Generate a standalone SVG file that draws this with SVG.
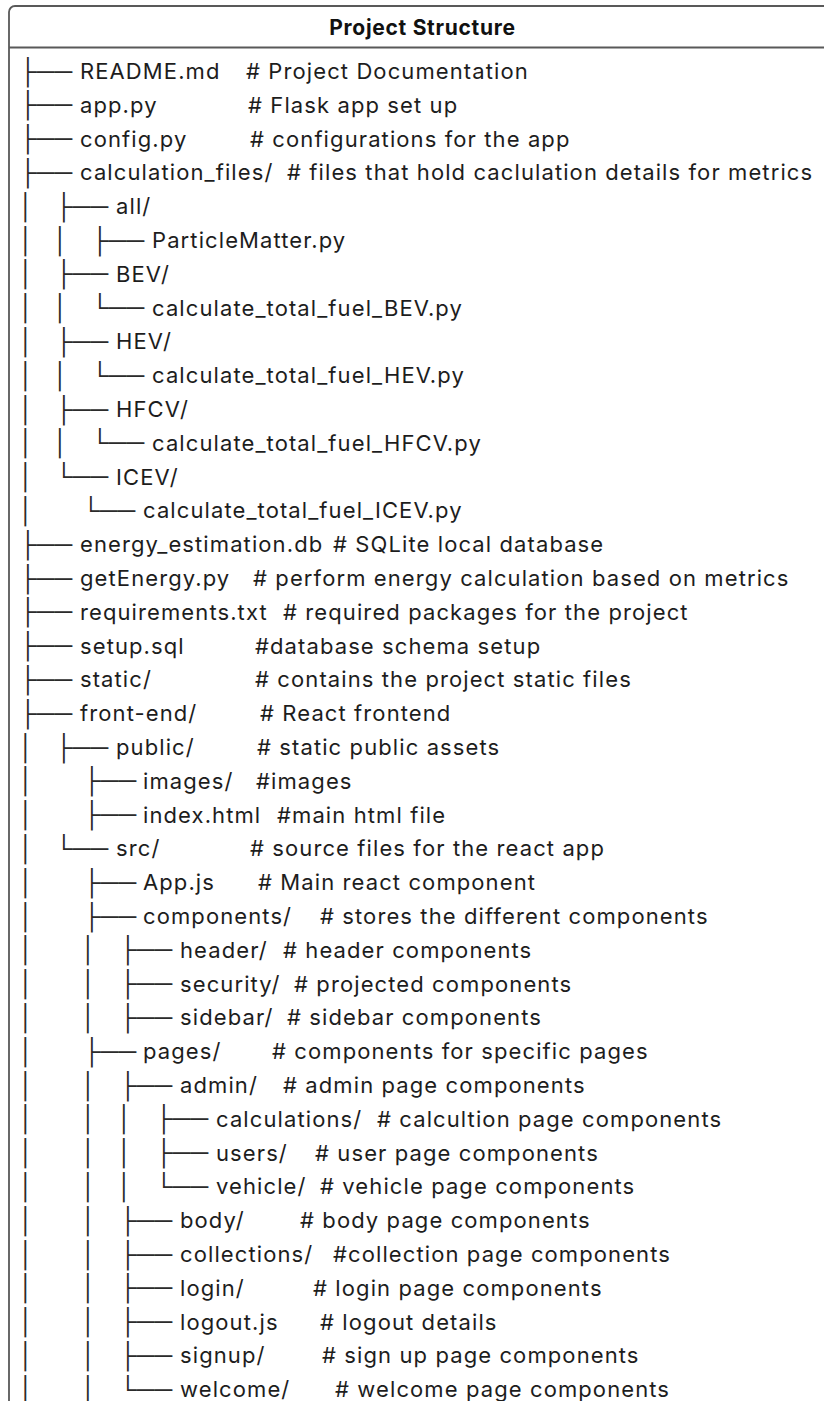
<svg xmlns="http://www.w3.org/2000/svg" width="824" height="1401" viewBox="0 0 824 1401">
<style>
.t{font-family:Inter,"Liberation Sans",sans-serif;font-size:22px;letter-spacing:1.1px;fill:#1d1d1d}
.h{font-family:Inter,"Liberation Sans",sans-serif;font-size:21px;font-weight:700;letter-spacing:0.7px;fill:#111}
.b{font-family:"Liberation Sans","DejaVu Sans",sans-serif;font-size:25px;fill:#2b2b2b}
</style>
<rect width="824" height="1401" fill="#ffffff"/>
<g id="frame">
<rect x="9" y="6" width="840" height="1420" rx="6" fill="none" stroke="#595959" stroke-width="1.8"/>
<line x1="9" y1="47.5" x2="824" y2="47.5" stroke="#595959" stroke-width="1.8"/>
</g>
<g id="header"><text class="h" x="422.5" y="35" text-anchor="middle">Project Structure</text></g>
<g id="connectors" transform="translate(-8.9 0.7)">
<text class="b" y="79"><tspan x="28">├──</tspan></text>
<text class="b" y="112.8"><tspan x="28">├──</tspan></text>
<text class="b" y="146.6"><tspan x="28">├──</tspan></text>
<text class="b" y="180.4"><tspan x="28">├──</tspan></text>
<text class="b" y="214.2"><tspan x="27.4">│</tspan><tspan x="64">├──</tspan></text>
<text class="b" y="248"><tspan x="27.4">│</tspan><tspan x="62">│</tspan><tspan x="100">├──</tspan></text>
<text class="b" y="281.8"><tspan x="27.4">│</tspan><tspan x="64">├──</tspan></text>
<text class="b" y="315.6"><tspan x="27.4">│</tspan><tspan x="62">│</tspan><tspan x="100">└──</tspan></text>
<text class="b" y="349.4"><tspan x="27.4">│</tspan><tspan x="64">├──</tspan></text>
<text class="b" y="383.2"><tspan x="27.4">│</tspan><tspan x="62">│</tspan><tspan x="100">└──</tspan></text>
<text class="b" y="417"><tspan x="27.4">│</tspan><tspan x="64">├──</tspan></text>
<text class="b" y="450.8"><tspan x="27.4">│</tspan><tspan x="62">│</tspan><tspan x="100">└──</tspan></text>
<text class="b" y="484.6"><tspan x="27.4">│</tspan><tspan x="64">└──</tspan></text>
<text class="b" y="518.4"><tspan x="27.4">│</tspan><tspan x="91">└──</tspan></text>
<text class="b" y="552.2"><tspan x="28">├──</tspan></text>
<text class="b" y="586"><tspan x="28">├──</tspan></text>
<text class="b" y="619.8"><tspan x="28">├──</tspan></text>
<text class="b" y="653.6"><tspan x="28">├──</tspan></text>
<text class="b" y="687.4"><tspan x="28">├──</tspan></text>
<text class="b" y="721.2"><tspan x="28">├──</tspan></text>
<text class="b" y="755"><tspan x="27.4">│</tspan><tspan x="64">├──</tspan></text>
<text class="b" y="788.8"><tspan x="27.4">│</tspan><tspan x="92">├──</tspan></text>
<text class="b" y="822.6"><tspan x="27.4">│</tspan><tspan x="92">├──</tspan></text>
<text class="b" y="856.4"><tspan x="27.4">│</tspan><tspan x="64">└──</tspan></text>
<text class="b" y="890.2"><tspan x="27.4">│</tspan><tspan x="92">├──</tspan></text>
<text class="b" y="924"><tspan x="27.4">│</tspan><tspan x="92">├──</tspan></text>
<text class="b" y="957.8"><tspan x="27.4">│</tspan><tspan x="90">│</tspan><tspan x="128">├──</tspan></text>
<text class="b" y="991.6"><tspan x="27.4">│</tspan><tspan x="90">│</tspan><tspan x="128">├──</tspan></text>
<text class="b" y="1025.4"><tspan x="27.4">│</tspan><tspan x="90">│</tspan><tspan x="128">├──</tspan></text>
<text class="b" y="1059.2"><tspan x="27.4">│</tspan><tspan x="92">├──</tspan></text>
<text class="b" y="1093"><tspan x="27.4">│</tspan><tspan x="90">│</tspan><tspan x="128">├──</tspan></text>
<text class="b" y="1126.8"><tspan x="27.4">│</tspan><tspan x="90">│</tspan><tspan x="126">│</tspan><tspan x="164">├──</tspan></text>
<text class="b" y="1160.6"><tspan x="27.4">│</tspan><tspan x="90">│</tspan><tspan x="126">│</tspan><tspan x="164">├──</tspan></text>
<text class="b" y="1194.4"><tspan x="27.4">│</tspan><tspan x="90">│</tspan><tspan x="126">│</tspan><tspan x="164">└──</tspan></text>
<text class="b" y="1228.2"><tspan x="27.4">│</tspan><tspan x="90">│</tspan><tspan x="128">├──</tspan></text>
<text class="b" y="1262"><tspan x="27.4">│</tspan><tspan x="90">│</tspan><tspan x="128">├──</tspan></text>
<text class="b" y="1295.8"><tspan x="27.4">│</tspan><tspan x="90">│</tspan><tspan x="128">├──</tspan></text>
<text class="b" y="1329.6"><tspan x="27.4">│</tspan><tspan x="90">│</tspan><tspan x="128">├──</tspan></text>
<text class="b" y="1363.4"><tspan x="27.4">│</tspan><tspan x="90">│</tspan><tspan x="128">├──</tspan></text>
<text class="b" y="1397.2"><tspan x="27.4">│</tspan><tspan x="90">│</tspan><tspan x="128">└──</tspan></text>
</g>
<g id="nodes">
<g id="n-readme"><text class="t" y="79"><tspan x="80">README.md</tspan><tspan x="246"># Project Documentation</tspan></text></g>
<g id="n-app"><text class="t" y="112.8"><tspan x="80">app.py</tspan><tspan x="248"># Flask app set up</tspan></text></g>
<g id="n-config"><text class="t" y="146.6"><tspan x="80">config.py</tspan><tspan x="250"># configurations for the app</tspan></text></g>
<g id="n-calcfiles"><text class="t" y="180.4"><tspan x="80">calculation_files/</tspan><tspan x="287"># files that hold caclulation details for metrics</tspan></text></g>
<g id="n-all"><text class="t" y="214.2" x="116">all/</text></g>
<g id="n-pm"><text class="t" y="248" x="152">ParticleMatter.py</text></g>
<g id="n-bev"><text class="t" y="281.8" x="116">BEV/</text></g>
<g id="n-bevpy"><text class="t" y="315.6" x="152">calculate_total_fuel_BEV.py</text></g>
<g id="n-hev"><text class="t" y="349.4" x="116">HEV/</text></g>
<g id="n-hevpy"><text class="t" y="383.2" x="152">calculate_total_fuel_HEV.py</text></g>
<g id="n-hfcv"><text class="t" y="417" x="116">HFCV/</text></g>
<g id="n-hfcvpy"><text class="t" y="450.8" x="152">calculate_total_fuel_HFCV.py</text></g>
<g id="n-icev"><text class="t" y="484.6" x="116">ICEV/</text></g>
<g id="n-icevpy"><text class="t" y="518.4" x="143">calculate_total_fuel_ICEV.py</text></g>
<g id="n-db"><text class="t" y="552.2"><tspan x="80">energy_estimation.db</tspan><tspan x="333"># SQLite local database</tspan></text></g>
<g id="n-getenergy"><text class="t" y="586"><tspan x="80">getEnergy.py</tspan><tspan x="253"># perform energy calculation based on metrics</tspan></text></g>
<g id="n-req"><text class="t" y="619.8"><tspan x="80">requirements.txt</tspan><tspan x="283"># required packages for the project</tspan></text></g>
<g id="n-setup"><text class="t" y="653.6"><tspan x="80">setup.sql</tspan><tspan x="255">#database schema setup</tspan></text></g>
<g id="n-static"><text class="t" y="687.4"><tspan x="80">static/</tspan><tspan x="255"># contains the project static files</tspan></text></g>
<g id="n-frontend"><text class="t" y="721.2"><tspan x="80">front-end/</tspan><tspan x="260"># React frontend</tspan></text></g>
<g id="n-public"><text class="t" y="755"><tspan x="116">public/</tspan><tspan x="257"># static public assets</tspan></text></g>
<g id="n-images"><text class="t" y="788.8"><tspan x="143">images/</tspan><tspan x="256">#images</tspan></text></g>
<g id="n-index"><text class="t" y="822.6"><tspan x="143">index.html</tspan><tspan x="277">#main html file</tspan></text></g>
<g id="n-src"><text class="t" y="856.4"><tspan x="116">src/</tspan><tspan x="250"># source files for the react app</tspan></text></g>
<g id="n-appjs"><text class="t" y="890.2"><tspan x="143">App.js</tspan><tspan x="258"># Main react component</tspan></text></g>
<g id="n-components"><text class="t" y="924"><tspan x="143">components/</tspan><tspan x="320"># stores the different components</tspan></text></g>
<g id="n-header"><text class="t" y="957.8"><tspan x="180">header/</tspan><tspan x="283"># header components</tspan></text></g>
<g id="n-security"><text class="t" y="991.6"><tspan x="180">security/</tspan><tspan x="294"># projected components</tspan></text></g>
<g id="n-sidebar"><text class="t" y="1025.4"><tspan x="180">sidebar/</tspan><tspan x="287"># sidebar components</tspan></text></g>
<g id="n-pages"><text class="t" y="1059.2"><tspan x="143">pages/</tspan><tspan x="272"># components for specific pages</tspan></text></g>
<g id="n-admin"><text class="t" y="1093"><tspan x="180">admin/</tspan><tspan x="283"># admin page components</tspan></text></g>
<g id="n-calculations"><text class="t" y="1126.8"><tspan x="216">calculations/</tspan><tspan x="377"># calcultion page components</tspan></text></g>
<g id="n-users"><text class="t" y="1160.6"><tspan x="216">users/</tspan><tspan x="315"># user page components</tspan></text></g>
<g id="n-vehicle"><text class="t" y="1194.4"><tspan x="216">vehicle/</tspan><tspan x="320"># vehicle page components</tspan></text></g>
<g id="n-body"><text class="t" y="1228.2"><tspan x="180">body/</tspan><tspan x="300"># body page components</tspan></text></g>
<g id="n-collections"><text class="t" y="1262"><tspan x="180">collections/</tspan><tspan x="333">#collection page components</tspan></text></g>
<g id="n-login"><text class="t" y="1295.8"><tspan x="180">login/</tspan><tspan x="313"># login page components</tspan></text></g>
<g id="n-logout"><text class="t" y="1329.6"><tspan x="180">logout.js</tspan><tspan x="320"># logout details</tspan></text></g>
<g id="n-signup"><text class="t" y="1363.4"><tspan x="180">signup/</tspan><tspan x="322"># sign up page components</tspan></text></g>
<g id="n-welcome"><text class="t" y="1397.2"><tspan x="180">welcome/</tspan><tspan x="335"># welcome page components</tspan></text></g>
</g>
</svg>
